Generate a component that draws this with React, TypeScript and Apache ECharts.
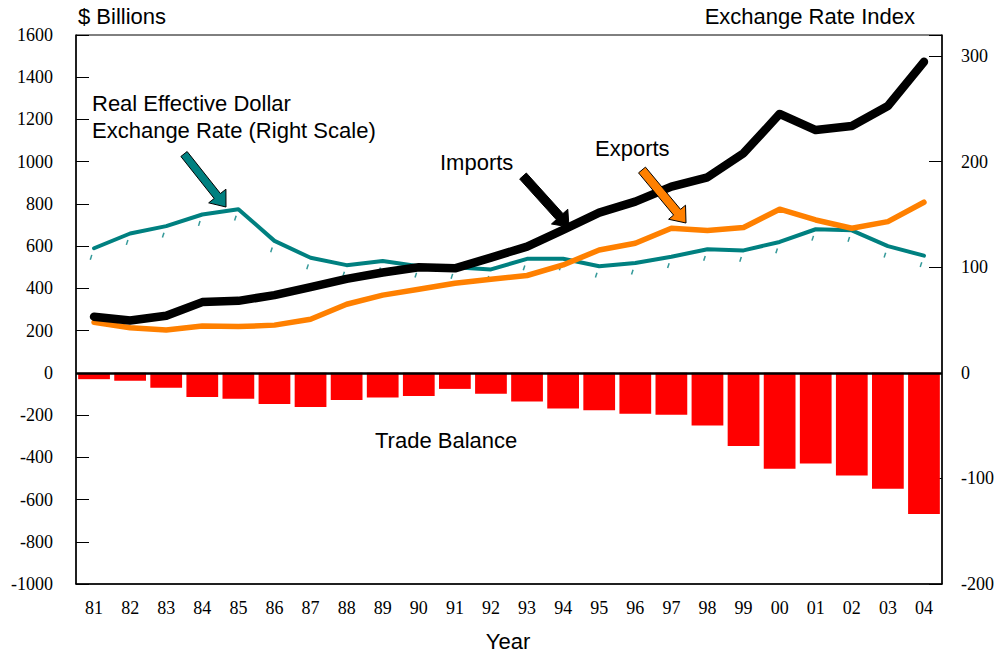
import React, { useEffect, useRef } from "react";
import * as echarts from "echarts";

const years = ["81","82","83","84","85","86","87","88","89","90","91","92","93","94","95","96","97","98","99","00","01","02","03","04"];
const imports = [266,248,270,335,341,368,406,445,475,500,495,546,598,677,759,811,882,926,1040,1226,1150,1169,1264,1473];
const exportsVals = [240,214,203,222,219,226,254,325,368,396,424,443,461,511,582,614,685,674,688,775,724,685,716,808];
const tradeBalance = [-30,-38,-70,-114,-123,-147,-162,-129,-117,-110,-76,-99,-136,-169,-177,-194,-199,-249,-347,-454,-429,-486,-549,-669];
const exchangeRate = [118,132,139,150,155,125,109,102,106,101,100,98,108,108,101,104,110,117,116,124,136,135,120,111];

const SERIF = "Liberation Serif";
const SANS = "Liberation Sans";

function arrow(tail: number[], tip: number[], shaftW: number, headW: number, headL: number) {
  const dx = tip[0] - tail[0];
  const dy = tip[1] - tail[1];
  const len = Math.sqrt(dx * dx + dy * dy);
  const ux = dx / len, uy = dy / len;
  const nx = -uy, ny = ux;
  const neck = [tip[0] - ux * headL, tip[1] - uy * headL];
  const p = (b: number[], s: number) => [b[0] + nx * s, b[1] + ny * s];
  return [
    p(tail, shaftW / 2),
    p(neck, shaftW / 2),
    p(neck, headW / 2),
    tip,
    p(neck, -headW / 2),
    p(neck, -shaftW / 2),
    p(tail, -shaftW / 2),
  ];
}

export default function App() {
  const ref = useRef<HTMLDivElement>(null);
  useEffect(() => {
    document.body.style.margin = "0";
    const chart = echarts.init(ref.current!, null, { renderer: "svg" });
    const sansText = (x: number, y: number, text: string, align: string = "left") => ({
      type: "text",
      x,
      y,
      style: { text, font: `22px "${SANS}"`, fill: "#000", align, verticalAlign: "middle" },
      z: 100,
    });
    chart.setOption({
      animation: false,
      backgroundColor: "#fff",
      grid: { left: 76, right: 52, top: 35, bottom: 70, show: true, borderColor: "#000", borderWidth: 1 },
      xAxis: {
        type: "category",
        data: years,
        boundaryGap: true,
        axisLine: { onZero: false, lineStyle: { color: "#000", width: 1.5 } },
        axisTick: { inside: true, alignWithLabel: true, length: 11, lineStyle: { color: "#000" } },
        axisLabel: { color: "#000", fontFamily: SERIF, fontSize: 18, margin: 15 },
      },
      yAxis: [
        {
          type: "value",
          min: -1000,
          max: 1600,
          interval: 200,
          axisLine: { show: true, lineStyle: { color: "#000", width: 1.5 } },
          axisTick: { show: true, inside: true, length: 13, lineStyle: { color: "#000" } },
          axisLabel: {
            color: "#000",
            fontFamily: SERIF,
            fontSize: 18,
            margin: 23,
            formatter: (v: number) => String(v),
          },
          splitLine: { show: false },
        },
        {
          type: "value",
          position: "right",
          min: -200,
          max: 320,
          interval: 100,
          axisLine: { show: true, lineStyle: { color: "#000", width: 1.5 } },
          axisTick: { show: true, inside: true, length: 13, lineStyle: { color: "#000" } },
          axisLabel: {
            color: "#000",
            fontFamily: SERIF,
            fontSize: 18,
            margin: 19,
            formatter: (v: number) => (v > 310 ? "" : String(v)),
          },
          splitLine: { show: false },
        },
      ],
      series: [
        {
          type: "bar",
          data: tradeBalance,
          yAxisIndex: 0,
          barCategoryGap: "12%",
          itemStyle: { color: "#ff0000" },
          markLine: {
            silent: true,
            symbol: "none",
            label: { show: false },
            lineStyle: { color: "#000", width: 2.5, type: "solid" },
            data: [{ yAxis: 0 }],
            z: 10,
          },
        },
        {
          type: "scatter",
          data: exchangeRate,
          yAxisIndex: 1,
          symbol: "rect",
          symbolSize: [1.5, 5],
          symbolRotate: -18,
          symbolOffset: [-3, 9],
          itemStyle: { color: "#008080" },
          silent: true,
        },
        {
          type: "line",
          data: exchangeRate,
          yAxisIndex: 1,
          symbol: "none",
          lineStyle: { color: "#008080", width: 4, cap: "round", join: "round" },
        },
        {
          type: "line",
          data: exportsVals,
          yAxisIndex: 0,
          symbol: "none",
          lineStyle: { color: "#ff8000", width: 5.5, cap: "round", join: "round" },
        },
        {
          type: "line",
          data: imports,
          yAxisIndex: 0,
          symbol: "none",
          lineStyle: { color: "#000", width: 8.5, cap: "round", join: "round" },
        },
      ],
      graphic: [
        sansText(78, 16, "$ Billions"),
        sansText(915, 16, "Exchange Rate Index", "right"),
        sansText(92, 103, "Real Effective Dollar"),
        sansText(92, 130, "Exchange Rate (Right Scale)"),
        sansText(440, 162, "Imports"),
        sansText(595, 148, "Exports"),
        sansText(375, 440, "Trade Balance"),
        sansText(508, 641, "Year", "center"),
        {
          type: "polygon",
          shape: { points: arrow([184, 154], [226, 207], 8, 22, 14) },
          style: { fill: "#008080", stroke: "#000", lineWidth: 1 },
          z: 100,
        },
        {
          type: "polygon",
          shape: { points: arrow([523, 176], [569, 227], 9, 22, 14) },
          style: { fill: "#000", stroke: "#000", lineWidth: 1 },
          z: 100,
        },
        {
          type: "polygon",
          shape: { points: arrow([642, 170], [686, 223], 9, 22, 14) },
          style: { fill: "#ff8000", stroke: "#000", lineWidth: 1 },
          z: 100,
        },
      ],
    });
    return () => chart.dispose();
  }, []);
  return <div ref={ref} style={{ width: 997, height: 654 }} />;
}
